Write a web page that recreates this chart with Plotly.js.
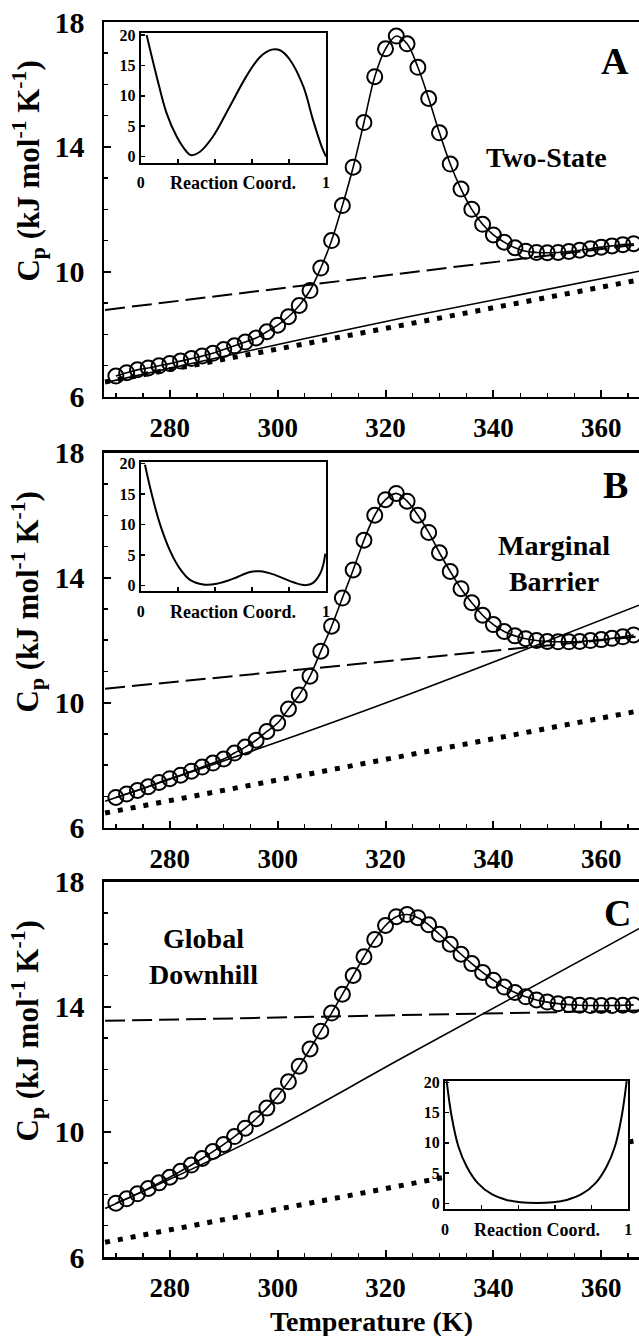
<!DOCTYPE html>
<html>
<head>
<meta charset="utf-8">
<script src="https://cdn.plot.ly/plotly-3.0.1.min.js"></script>
<style>html,body{margin:0;padding:0;background:#fff;}#chart{width:639px;height:1336px;}</style>
</head>
<body>
<div id="chart"></div>
<script>
// ---------- data ----------
const temperature = [270,272,274,276,278,280,282,284,286,288,290,292,294,296,298,300,302,304,306,308,310,312,314,316,318,320,322,324,326,328,330,332,334,336,338,340,342,344,346,348,350,352,354,356,358,360,362,364,366];

const cpTwoState = [6.66,6.77,6.86,6.92,6.99,7.06,7.14,7.22,7.30,7.39,7.51,7.63,7.75,7.88,8.08,8.29,8.56,8.92,9.40,10.12,11.00,12.12,13.35,14.78,16.25,17.14,17.55,17.30,16.55,15.55,14.45,13.45,12.65,12.00,11.52,11.18,10.95,10.77,10.66,10.62,10.61,10.62,10.65,10.69,10.74,10.79,10.83,10.87,10.90];

const cpMarginal = [6.97,7.08,7.19,7.31,7.45,7.57,7.68,7.81,7.94,8.07,8.20,8.39,8.58,8.80,9.08,9.35,9.80,10.25,10.85,11.65,12.45,13.35,14.25,15.20,16.00,16.50,16.70,16.45,16.00,15.45,14.80,14.20,13.65,13.20,12.80,12.50,12.28,12.14,12.05,11.99,11.96,11.95,11.95,11.96,11.99,12.02,12.06,12.11,12.17];

const cpDownhill = [7.72,7.86,8.02,8.19,8.37,8.55,8.74,8.94,9.15,9.37,9.60,9.85,10.12,10.42,10.76,11.15,11.60,12.10,12.65,13.22,13.80,14.40,15.00,15.60,16.15,16.60,16.88,16.95,16.85,16.62,16.32,16.00,15.68,15.38,15.10,14.85,14.63,14.46,14.32,14.22,14.15,14.10,14.07,14.05,14.04,14.04,14.04,14.05,14.06];

// baselines (solid = folded baseline, dashed = unfolded baseline, dotted = native)
const baseT = [268, 296, 324, 367];
const solidA = [6.45, 7.52, 8.55, 10.02];
const solidB = [6.85, 8.50, 10.25, 13.12];
const solidC = [7.55, 9.80, 12.45, 16.50];
const lineT = [268, 367];
const dashedA = [8.78, 10.88];
const dashedB = [10.45, 12.12];
const dashedC = [13.55, 13.88];
const dottedAll = [6.47, 9.74];

// inset free-energy profiles
const rcA = [0.032,0.086,0.14,0.194,0.248,0.27,0.32,0.39,0.48,0.57,0.644,0.707,0.752,0.806,0.878,0.93,0.977,1.0];
const gA  = [20,13.2,7.1,3.3,0.8,0.25,0.8,3.3,8.2,13.2,16.4,17.6,17.5,15.9,11.5,6.0,1.6,0];
const rcB = [0.023,0.06,0.104,0.158,0.212,0.266,0.338,0.41,0.5,0.59,0.644,0.716,0.806,0.87,0.896,0.93,0.968,0.986,0.996];
const gB  = [19.8,14.9,10.05,5.7,2.7,0.9,0.16,0.27,1.1,2.2,2.3,1.8,0.7,0.1,0.05,0.4,1.9,3.5,5.2];
const rcC = [0.009,0.036,0.073,0.118,0.18,0.255,0.336,0.41,0.5,0.59,0.664,0.745,0.82,0.882,0.927,0.964,0.991];
const gC  = [20.2,14.4,9.4,6.1,3.3,1.5,0.55,0.17,0.05,0.17,0.55,1.5,3.3,6.1,9.4,14.4,20.2];

const xTickVals = [280,300,320,340,360];
const yTickVals = [6,10,14,18];
const insetXTicks = [0,1];
const insetYTicks = [0,5,10,15,20];
const panelLetters = ['A','B','C'];
const panelNotes = ['Two-State','Marginal<br>Barrier','Global<br>Downhill'];

// ---------- styling ----------
const FONT = 'Liberation Serif';
const ink = '#000';

function mainX(anchor){
  return {
    anchor: anchor, range:[267.8,367.0], showline:true, linewidth:2.5, linecolor:ink, mirror:true,
    ticks:'inside', ticklen:7, tickwidth:2, tickcolor:ink, tickvals:xTickVals,
    minor:{dtick:5, tick0:0, ticks:'inside', ticklen:4, tickwidth:1.5, tickcolor:ink},
    tickfont:{family:FONT, size:27, color:ink, weight:'bold'}, ticklabelstandoff:5,
    showgrid:false, zeroline:false, fixedrange:true
  };
}
function mainY(anchor, dom){
  return {
    anchor: anchor, domain: dom, range:[6,18], showline:true, linewidth:2.5, linecolor:ink, mirror:false,
    ticks:'inside', ticklen:7, tickwidth:2, tickcolor:ink, tickvals:yTickVals,
    minor:{dtick:1, tick0:0, ticks:'inside', ticklen:4, tickwidth:1.5, tickcolor:ink},
    tickfont:{family:FONT, size:30, color:ink, weight:'bold'}, ticklabelstandoff:11,
    showgrid:false, zeroline:false, fixedrange:true
  };
}
function insetX(anchor, dom){
  return {
    anchor: anchor, domain: dom, range:[0,1], showline:true, linewidth:2, linecolor:ink, mirror:true,
    ticks:'inside', ticklen:4, tickwidth:1.5, tickcolor:ink, tickvals:insetXTicks,
    minor:{dtick:0.2, tick0:0, ticks:'inside', ticklen:4, tickwidth:1.5, tickcolor:ink},
    tickfont:{family:FONT, size:16, color:ink, weight:'bold'}, ticklabelstandoff:4,
    showgrid:false, zeroline:false, fixedrange:true
  };
}
function insetY(anchor, dom){
  return {
    anchor: anchor, domain: dom, range:[-1,20.3], showline:true, linewidth:2, linecolor:ink, mirror:true,
    ticks:'inside', ticklen:4, tickwidth:1.5, tickcolor:ink, tickvals:insetYTicks,
    tickfont:{family:FONT, size:16, color:ink, weight:'bold'},
    showgrid:false, zeroline:false, fixedrange:true
  };
}

const domA=[0.6966,1], domB=[0.3476,0.6512], domC=[0,0.3039];
const insetXAB=[0.0686,0.4150], insetXC=[0.6374,0.9800];

const traces = [];
const panels = [
  {xa:'x', ya:'y', cp:cpTwoState, solid:solidA, dashed:dashedA},
  {xa:'x2', ya:'y2', cp:cpMarginal, solid:solidB, dashed:dashedB},
  {xa:'x3', ya:'y3', cp:cpDownhill, solid:solidC, dashed:dashedC}
];
panels.forEach(p=>{
  traces.push({x:lineT, y:dottedAll, xaxis:p.xa, yaxis:p.ya, mode:'lines', line:{color:ink, width:5, dash:'5px,8px'}, hoverinfo:'skip'});
  traces.push({x:lineT, y:p.dashed, xaxis:p.xa, yaxis:p.ya, mode:'lines', line:{color:ink, width:2, dash:'20px,7px'}, hoverinfo:'skip'});
  traces.push({x:baseT, y:p.solid, xaxis:p.xa, yaxis:p.ya, mode:'lines', line:{color:ink, width:1.6, shape:'spline'}, hoverinfo:'skip'});
  traces.push({x:temperature, y:p.cp, xaxis:p.xa, yaxis:p.ya, mode:'lines+markers',
    line:{color:ink, width:1.6, shape:'spline'},
    marker:{symbol:'circle-open', size:15, color:ink, line:{width:2, color:ink}}, hoverinfo:'skip'});
});
traces.push({x:rcA, y:gA, xaxis:'x4', yaxis:'y4', mode:'lines', line:{color:ink, width:2, shape:'spline'}, hoverinfo:'skip'});
traces.push({x:rcB, y:gB, xaxis:'x5', yaxis:'y5', mode:'lines', line:{color:ink, width:2, shape:'spline'}, hoverinfo:'skip'});
traces.push({x:rcC, y:gC, xaxis:'x6', yaxis:'y6', mode:'lines', line:{color:ink, width:2, shape:'spline'}, hoverinfo:'skip'});

const ytitle = 'C<sub>p</sub> (kJ mol<sup>-1</sup> K<sup>-1</sup>)';
const annotations = [];
['y','y2','y3'].forEach((ya,i)=>{
  annotations.push({xref:'paper', yref:ya+' domain', x:-0.142, y:0.601, text:ytitle, textangle:-90, showarrow:false,
    xanchor:'center', yanchor:'middle', font:{family:FONT, size:31, color:ink, weight:'bold'}});
});
const letterPos = [[362.6,16.74],[362.6,16.97],[363.0,17.0]];
['x','x2','x3'].forEach((xa,i)=>{
  const ya = ['y','y2','y3'][i];
  annotations.push({xref:xa, yref:ya, x:letterPos[i][0], y:letterPos[i][1], text:panelLetters[i], showarrow:false,
    font:{family:FONT, size:38, color:ink, weight:'bold'}});
});
const notePos = [[349.8,13.67],[351.2,14.44],[286.3,15.62]];
['x','x2','x3'].forEach((xa,i)=>{
  const ya = ['y','y2','y3'][i];
  annotations.push({xref:xa, yref:ya, x:notePos[i][0], y:notePos[i][1], text:panelNotes[i], showarrow:false,
    font:{family:FONT, size:28, color:ink, weight:'bold'}});
});
[['x4','y4'],['x5','y5'],['x6','y6']].forEach(r=>{
  annotations.push({xref:r[0]+' domain', yref:r[1]+' domain', x:0.5, y:-0.16, text:'Reaction Coord.', showarrow:false,
    xanchor:'center', yanchor:'middle', font:{family:FONT, size:18, color:ink, weight:'bold'}});
});
annotations.push({xref:'x3 domain', yref:'paper', x:0.5, y:-0.0524, text:'Temperature (K)', showarrow:false,
  xanchor:'center', yanchor:'middle', font:{family:FONT, size:28, color:ink, weight:'bold'}});

const layout = {
  width:639, height:1336, margin:{l:104, r:0, t:22, b:79},
  font:{family:FONT, color:ink},
  paper_bgcolor:'#fff', plot_bgcolor:'#fff', showlegend:false,
  xaxis: mainX('y'), yaxis: mainY('x', domA),
  xaxis2: mainX('y2'), yaxis2: mainY('x2', domB),
  xaxis3: mainX('y3'), yaxis3: mainY('x3', domC),
  xaxis4: insetX('y4', insetXAB), yaxis4: insetY('x4', [0.8861,0.9909]),
  xaxis5: insetX('y5', insetXAB), yaxis5: insetY('x5', [0.5389,0.6440]),
  xaxis6: insetX('y6', insetXC), yaxis6: insetY('x6', [0.0386,0.1428]),
  annotations: annotations
};

Plotly.newPlot('chart', traces, layout, {displayModeBar:false, staticPlot:true});
</script>
</body>
</html>
